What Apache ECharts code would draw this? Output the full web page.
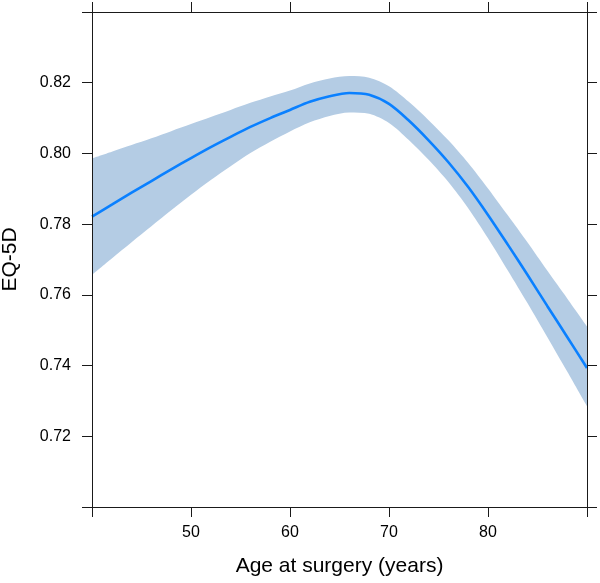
<!DOCTYPE html>
<html>
<head>
<meta charset="utf-8">
<script src="https://cdn.jsdelivr.net/npm/echarts@6/dist/echarts.min.js"></script>
<style>
html,body{margin:0;padding:0;background:#fff;}
#chart{width:600px;height:583px;}
</style>
</head>
<body>
<div id="chart"></div>
<script>
// Age at surgery (years)
const ages = [40, 42, 44, 46, 48, 50, 52, 54, 56, 58, 60, 62, 64, 66, 68, 70, 72, 74, 76, 78, 80, 82, 84, 86, 88, 90];
// Fitted EQ-5D
const meanVals  = [0.7821, 0.7855, 0.7889, 0.7922, 0.7955, 0.7987, 0.8018, 0.8047, 0.8075, 0.8100, 0.8123, 0.8146, 0.8162, 0.8171, 0.8166, 0.8140, 0.8093, 0.8037, 0.7975, 0.7905, 0.7826, 0.7742, 0.7656, 0.7568, 0.7481, 0.7393];
// Upper confidence limit
const upperVals = [0.7986, 0.8005, 0.8024, 0.8043, 0.8063, 0.8083, 0.8103, 0.8123, 0.8143, 0.8161, 0.8178, 0.8198, 0.8212, 0.8219, 0.8214, 0.8190, 0.8146, 0.8094, 0.8037, 0.7973, 0.7901, 0.7825, 0.7748, 0.7668, 0.7590, 0.7511];
// Lower confidence limit
const lowerVals = [0.7657, 0.7703, 0.7749, 0.7794, 0.7839, 0.7883, 0.7925, 0.7964, 0.8001, 0.8033, 0.8062, 0.8088, 0.8106, 0.8116, 0.8112, 0.8086, 0.8038, 0.7982, 0.7919, 0.7845, 0.7760, 0.7669, 0.7576, 0.7480, 0.7383, 0.7285];
// Tick labels shown
const xTickLabels = ['50', '60', '70', '80'];
const yTickLabels = ['0.72', '0.74', '0.76', '0.78', '0.80', '0.82'];

const FONT = 'Liberation Sans, Arial, Helvetica, sans-serif';
const AX = '#1a1a1a';
const BAND = '#b4cce4';
const SMOOTH = 0.3;

const chart = echarts.init(document.getElementById('chart'), null, {renderer: 'canvas'});

const upperData = ages.map((a, i) => [a, upperVals[i]]);
const lowerData = ages.map((a, i) => [a, lowerVals[i]]);
const meanData  = ages.map((a, i) => [a, meanVals[i]]);

function xAxisBase(pos, showLabels, extra) {
  return Object.assign({
    type: 'value', position: pos, min: 40, max: 90, interval: 10, z: 10,
    axisLine: {show: true, onZero: false, lineStyle: {color: AX, width: 1}},
    axisTick: {show: true, inside: false, length: 10, lineStyle: {color: AX, width: 1}},
    splitLine: {show: false},
    axisLabel: {
      show: showLabels, margin: 18, color: '#000', fontSize: 16, fontFamily: FONT,
      formatter: v => { const s = String(v); return xTickLabels.indexOf(s) >= 0 ? s : ''; }
    }
  }, extra || {});
}
function yAxisBase(pos, showLabels, extra) {
  return Object.assign({
    type: 'value', position: pos, min: 0.70, max: 0.84, interval: 0.02, z: 10,
    axisLine: {show: true, onZero: false, lineStyle: {color: AX, width: 1}},
    axisTick: {show: true, inside: false, length: 10, lineStyle: {color: AX, width: 1}},
    splitLine: {show: false},
    axisLabel: {
      show: showLabels, margin: 21, color: '#000', fontSize: 16, fontFamily: FONT,
      formatter: v => { const s = v.toFixed(2); return yTickLabels.indexOf(s) >= 0 ? s : ''; }
    }
  }, extra || {});
}

chart.setOption({
  animation: false,
  backgroundColor: '#fff',
  grid: {left: 92, right: 13, top: 12, bottom: 76, containLabel: false, outerBoundsMode: 'none'},
  xAxis: [
    xAxisBase('bottom', true, {
      name: 'Age at surgery (years)', nameLocation: 'middle', nameGap: 49,
      nameTextStyle: {color: '#000', fontSize: 21, fontFamily: FONT}
    }),
    xAxisBase('top', false)
  ],
  yAxis: [
    yAxisBase('left', true, {
      name: 'EQ-5D', nameLocation: 'middle', nameGap: 71, nameRotate: 90,
      nameTextStyle: {color: '#000', fontSize: 21, fontFamily: FONT}
    }),
    yAxisBase('right', false)
  ],
  series: [
    {
      type: 'line', data: upperData, smooth: SMOOTH, symbol: 'none',
      lineStyle: {width: 0, opacity: 0},
      areaStyle: {color: BAND, opacity: 1, origin: 'start'}, silent: true, z: 1
    },
    {
      type: 'line', data: lowerData, smooth: SMOOTH, symbol: 'none',
      lineStyle: {width: 0, opacity: 0},
      areaStyle: {color: '#ffffff', opacity: 1, origin: 'start'}, silent: true, z: 2
    },
    {
      type: 'line', data: meanData, smooth: SMOOTH, symbol: 'none',
      lineStyle: {color: '#0a80ff', width: 2.6}, z: 3
    }
  ]
});
</script>
</body>
</html>
